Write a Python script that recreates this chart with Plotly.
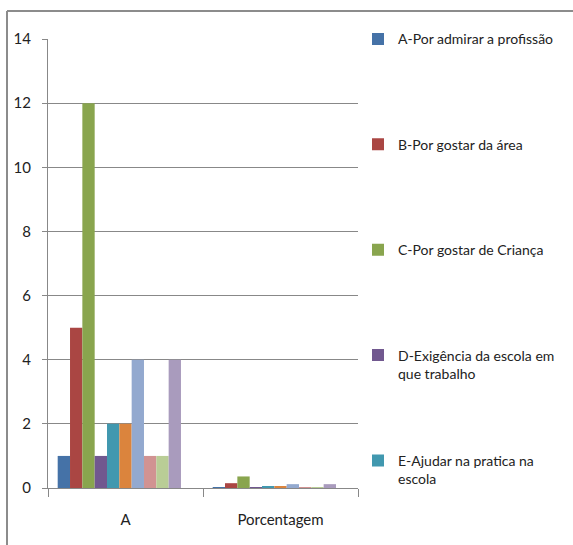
import plotly.graph_objects as go

# Survey answers: counts per reason, plus the same answers as a share of the total
categories = ["A", "Porcentagem"]

series_names = [
    "A-Por admirar a profissão",
    "B-Por gostar da área",
    "C-Por gostar de Criança",
    "D-Exigência da escola em<br>que trabalho",
    "E-Ajudar na pratica na<br>escola",
    "F",
    "G",
    "H",
    "I",
    "J",
    "K",
]

counts = [1, 5, 12, 1, 2, 2, 4, 1, 1, 4, 0]
shares = [0.03, 0.15, 0.36, 0.03, 0.06, 0.06, 0.12, 0.03, 0.03, 0.12, 0]

colors = [
    "#4572A7", "#AA4643", "#89A54E", "#71588F", "#4198AF", "#DB843D",
    "#93A9CF", "#D19392", "#B9CD96", "#A99BBD", "#3A5E8C",
]

y_ticks = [0, 2, 4, 6, 8, 10, 12, 14]

FONT = "Lato, Open Sans, sans-serif"
GRID = "#888888"
TEXT = "#222222"

fig = go.Figure()
for i, name in enumerate(series_names):
    # pad single-line entries to two lines so every legend row has the same height
    label = name if "<br>" in name else name + "<br> "
    fig.add_trace(go.Bar(
        x=categories,
        y=[counts[i], shares[i]],
        name=label,
        marker=dict(color=colors[i], line=dict(width=0)),
        legendgroup=f"g{i}",
        showlegend=i < 5,
    ))

fig.update_layout(
    width=573,
    height=545,
    margin=dict(l=48, r=215, t=39, b=57, autoexpand=False),
    paper_bgcolor="white",
    plot_bgcolor="white",
    barmode="group",
    bargap=0.125,
    bargroupgap=0,
    font=dict(family=FONT, size=15, color=TEXT),
    legend=dict(
        x=1.0, xanchor="left",
        y=1.035, yanchor="top",
        tracegroupgap=66,
        valign="top",
        maxheight=2000,
        font=dict(family=FONT, size=14, color=TEXT),
        bgcolor="rgba(0,0,0,0)",
    ),
    xaxis=dict(
        type="category",
        showline=True, linecolor=GRID, linewidth=1,
        ticks="outside", ticklen=8, tickcolor=GRID, tickson="boundaries",
        tickfont=dict(family=FONT, size=15, color=TEXT),
        showgrid=False,
        ticklabelstandoff=18,
    ),
    yaxis=dict(
        range=[0, 14],
        tickvals=y_ticks,
        showline=True, linecolor=GRID, linewidth=1,
        ticks="outside", ticklen=5, tickcolor=GRID,
        showgrid=True, gridcolor=GRID, gridwidth=1,
        zeroline=False,
        tickfont=dict(family=FONT, size=15, color=TEXT),
        ticklabelstandoff=8,
    ),
    shapes=[
        # outer chart frame (top and left edges)
        dict(type="line", xref="paper", yref="paper",
             x0=-41 / 310, x1=2.0, y0=1 + 28 / 449, y1=1 + 28 / 449,
             line=dict(color="#8C8C8C", width=2)),
        dict(type="line", xref="paper", yref="paper",
             x0=-41 / 310, x1=-41 / 310, y0=1 + 28 / 449, y1=-0.5,
             line=dict(color="#8C8C8C", width=2)),
    ],
)

fig.write_html("out.html")
